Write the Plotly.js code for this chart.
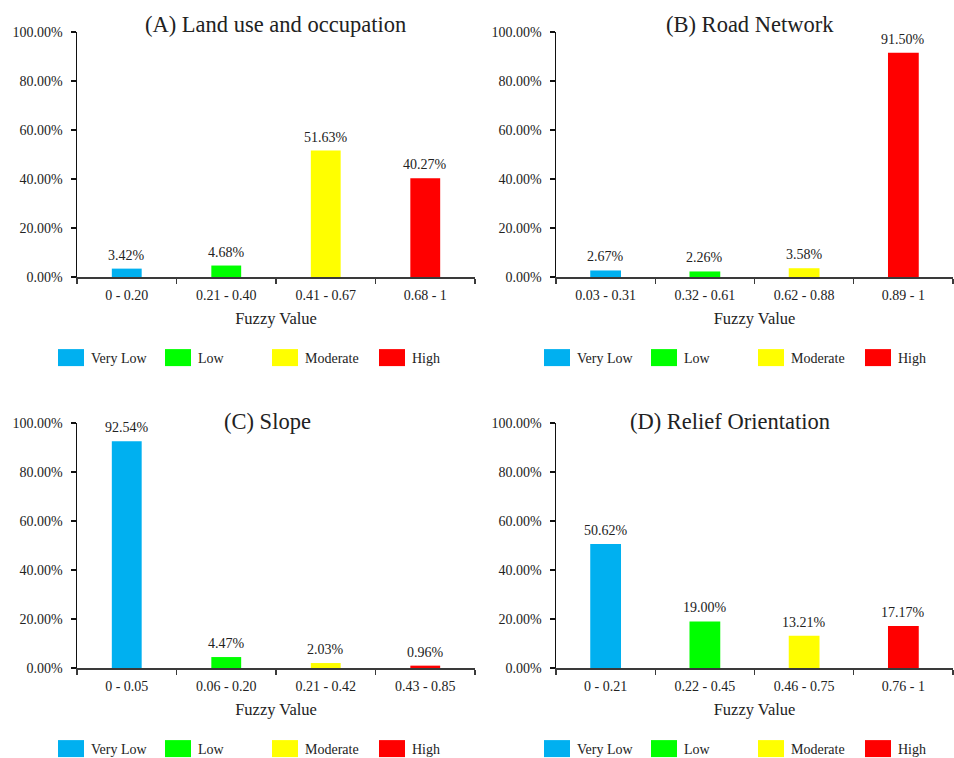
<!DOCTYPE html>
<html>
<head>
<meta charset="utf-8">
<script src="https://cdn.plot.ly/plotly-3.0.1.min.js"></script>
<style>html,body{margin:0;padding:0;background:#fff;}#chart{width:954px;height:758px;}</style>
</head>
<body>
<div id="chart"></div>
<script>
// ---- data ----
const classNames = ['Very Low', 'Low', 'Moderate', 'High'];
const classColors = ['#00B0F0', '#00FF00', '#FFFF00', '#FF0000'];

const titleA = '(A) Land use and occupation';
const catsA = ['0 - 0.20', '0.21 - 0.40', '0.41 - 0.67', '0.68 - 1'];
const valsA = [3.42, 4.68, 51.63, 40.27];

const titleB = '(B) Road Network';
const catsB = ['0.03 - 0.31', '0.32 - 0.61', '0.62 - 0.88', '0.89 - 1'];
const valsB = [2.67, 2.26, 3.58, 91.50];

const titleC = '(C) Slope';
const catsC = ['0 - 0.05', '0.06 - 0.20', '0.21 - 0.42', '0.43 - 0.85'];
const valsC = [92.54, 4.47, 2.03, 0.96];

const titleD = '(D) Relief Orientation';
const catsD = ['0 - 0.21', '0.22 - 0.45', '0.46 - 0.75', '0.76 - 1'];
const valsD = [50.62, 19.00, 13.21, 17.17];

const xTitle = 'Fuzzy Value';

// ---- build ----
const FONT = 'Liberation Serif, Times New Roman, serif';
const TXT = '#222';
const W = 954, H = 758;
const px = v => v / W;
const py = v => 1 - v / H;

const panels = [
  {cats: catsA, vals: valsA, title: titleA, xa: 'x',  ya: 'y',  lg: 'legend',  dom: [77, 475], ydom: [32, 277], tx: 275, ty: 24, lx: 51, ly: 358, bw: 0.3},
  {cats: catsB, vals: valsB, title: titleB, xa: 'x2', ya: 'y2', lg: 'legend2', dom: [556, 953], ydom: [32, 277], tx: 750, ty: 24, lx: 537, ly: 358, bw: 0.31},
  {cats: catsC, vals: valsC, title: titleC, xa: 'x3', ya: 'y3', lg: 'legend3', dom: [77, 475], ydom: [423, 668], tx: 267, ty: 421, lx: 51, ly: 749, bw: 0.3},
  {cats: catsD, vals: valsD, title: titleD, xa: 'x4', ya: 'y4', lg: 'legend4', dom: [556, 953], ydom: [423, 668], tx: 730, ty: 421, lx: 537, ly: 749, bw: 0.31}
];

const traces = [];
const layout = {
  width: W, height: H,
  margin: {l: 0, r: 0, t: 0, b: 0, autoexpand: false},
  paper_bgcolor: '#fff', plot_bgcolor: '#fff',
  font: {family: FONT, color: TXT, size: 14},
  barmode: 'overlay',
  annotations: [],
  showlegend: true
};

panels.forEach((p, pi) => {
  p.cats.forEach((c, i) => {
    traces.push({
      type: 'bar',
      x: [c], y: [p.vals[i]],
      name: classNames[i],
      marker: {color: classColors[i]},
      width: p.bw,
      xaxis: p.xa, yaxis: p.ya,
      legend: p.lg,
      hoverinfo: 'x+y'
    });
    layout.annotations.push({
      xref: p.xa, yref: p.ya,
      x: c, y: p.vals[i],
      text: p.vals[i].toFixed(2) + '%',
      showarrow: false, xanchor: 'center', yanchor: 'bottom', yshift: 4,
      font: {family: FONT, size: 14, color: TXT}
    });
  });
  const sfx = pi === 0 ? '' : String(pi + 1);
  layout['xaxis' + sfx] = {
    domain: [px(p.dom[0]), px(p.dom[1])],
    anchor: 'y' + sfx,
    type: 'category',
    categoryorder: 'array', categoryarray: p.cats,
    range: [-0.5, 3.5],
    showline: true, linecolor: '#3a3a3a', linewidth: 1.5,
    ticks: 'outside', tickson: 'boundaries', ticklen: 5, tickcolor: '#3a3a3a', tickwidth: 1.2,
    ticklabelstandoff: 5,
    showgrid: false, zeroline: false, automargin: false,
    tickfont: {family: FONT, size: 14, color: TXT},
    title: {text: xTitle, font: {family: FONT, size: 16.5, color: TXT}, standoff: 10},
    fixedrange: true
  };
  layout['yaxis' + sfx] = {
    domain: [py(p.ydom[1]), py(p.ydom[0])],
    anchor: 'x' + sfx,
    range: [0, 100], dtick: 20, tick0: 0,
    tickformat: '.2f', ticksuffix: '%',
    showline: true, linecolor: '#111', linewidth: 1.5,
    ticks: 'outside', ticklen: 5, tickcolor: '#111', tickwidth: 1.2,
    ticklabelstandoff: 5,
    showgrid: false, zeroline: false, automargin: false,
    tickfont: {family: FONT, size: 14, color: TXT},
    fixedrange: true
  };
  layout[p.lg] = {
    orientation: 'h',
    x: px(p.lx), xanchor: 'left',
    y: py(p.ly), yanchor: 'middle',
    font: {family: FONT, size: 14, color: TXT},
    bgcolor: 'rgba(0,0,0,0)',
    entrywidth: 62, entrywidthmode: 'pixels',
    traceorder: 'normal'
  };
  layout.annotations.push({
    text: p.title, xref: 'paper', yref: 'paper',
    x: px(p.tx), y: py(p.ty), xanchor: 'center', yanchor: 'middle',
    showarrow: false, font: {family: FONT, size: 22.5, color: TXT}
  });
});

function enlargeSwatches() {
  document.querySelectorAll('#chart .legendpoints path').forEach(el => {
    if (el.getAttribute('d') !== 'M13,8.5H-13V-8.5H13Z') {
      el.setAttribute('d', 'M13,8.5H-13V-8.5H13Z');
    }
  });
}

const gd = document.getElementById('chart');
Plotly.newPlot(gd, traces, layout, {displayModeBar: false, staticPlot: true}).then(() => {
  enlargeSwatches();
  gd.on('plotly_afterplot', () => setTimeout(enlargeSwatches, 0));
  [0, 50, 200, 600].forEach(t => setTimeout(enlargeSwatches, t));
  requestAnimationFrame(enlargeSwatches);
});
</script>
</body>
</html>
